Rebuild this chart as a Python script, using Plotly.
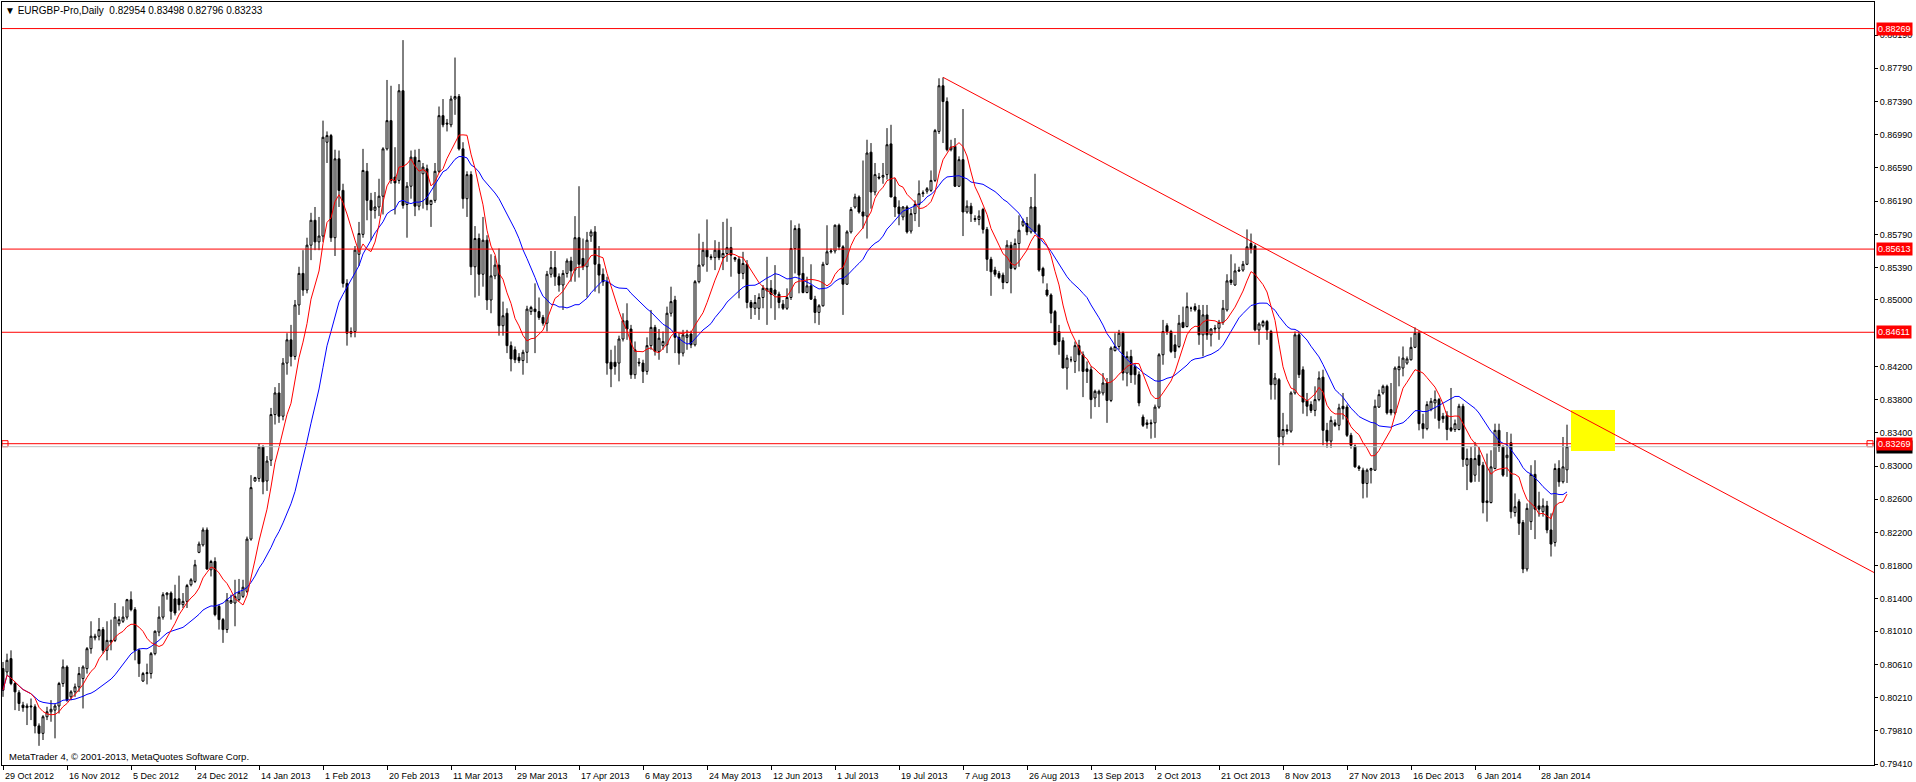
import plotly.graph_objects as go
import pandas as pd

# ---------------- data (prices in units of 0.0001) ----------------
opens = [
    8056, 8052, 8068, 8038, 8027, 8012, 8009, 8011, 8010, 7987,
    7978, 7998, 8004, 8006, 8011, 8038, 8058, 8022, 8028, 8034,
    8044, 8056, 8080, 8093, 8095, 8103, 8078, 8088, 8090, 8110,
    8113, 8118, 8139, 8127, 8078, 8041, 8050, 8050, 8074, 8100,
    8118, 8145, 8147, 8140, 8140, 8133, 8137, 8157, 8161, 8196,
    8205, 8223, 8175, 8185, 8131, 8115, 8103, 8135, 8135, 8139,
    8143, 8149, 8212, 8282, 8285, 8323, 8282, 8307, 8362, 8388,
    8360, 8424, 8452, 8432, 8494, 8532, 8512, 8566, 8596, 8570,
    8577, 8690, 8698, 8575, 8670, 8632, 8520, 8460, 8462, 8555,
    8579, 8655, 8620, 8608, 8612, 8625, 8682, 8716, 8648, 8644,
    8752, 8615, 8637, 8672, 8613, 8652, 8658, 8615, 8620, 8655,
    8722, 8713, 8711, 8742, 8745, 8682, 8622, 8651, 8540, 8574,
    8531, 8572, 8500, 8529, 8542, 8469, 8484, 8445, 8440, 8431,
    8427, 8437, 8486, 8489, 8486, 8479, 8472, 8531, 8539, 8528,
    8518, 8532, 8547, 8536, 8575, 8550, 8540, 8577, 8582, 8543,
    8531, 8522, 8425, 8425, 8424, 8453, 8475, 8465, 8410, 8425,
    8424, 8414, 8445, 8467, 8438, 8445, 8446, 8484, 8500, 8455,
    8436, 8455, 8459, 8446, 8522, 8542, 8560, 8552, 8551, 8560,
    8551, 8556, 8563, 8551, 8549, 8532, 8543, 8497, 8490, 8490,
    8503, 8511, 8514, 8512, 8507, 8495, 8490, 8503, 8562, 8586,
    8532, 8509, 8517, 8501, 8485, 8493, 8543, 8558, 8559, 8590,
    8564, 8519, 8582, 8612, 8624, 8606, 8601, 8678, 8630, 8648,
    8648, 8651, 8688, 8624, 8612, 8600, 8612, 8583, 8604, 8615,
    8628, 8631, 8632, 8644, 8703, 8758, 8739, 8681, 8685, 8637,
    8669, 8606, 8613, 8598, 8597, 8609, 8585, 8549, 8536, 8532,
    8530, 8521, 8566, 8538, 8568, 8590, 8592, 8582, 8612, 8590,
    8538, 8512, 8506, 8486, 8462, 8451, 8418, 8428, 8426, 8445,
    8434, 8417, 8416, 8382, 8387, 8388, 8400, 8379, 8439, 8444,
    8460, 8412, 8432, 8420, 8410, 8359, 8350, 8352, 8352, 8371,
    8434, 8469, 8462, 8446, 8444, 8473, 8468, 8490, 8492, 8488,
    8458, 8482, 8458, 8465, 8466, 8473, 8488, 8524, 8518, 8536,
    8536, 8543, 8568, 8565, 8464, 8469, 8474, 8462, 8398, 8404,
    8335, 8344, 8342, 8388, 8458, 8416, 8379, 8374, 8367, 8380,
    8407, 8343, 8330, 8352, 8349, 8372, 8371, 8337, 8324, 8299,
    8295, 8279, 8295, 8295, 8371, 8388, 8396, 8368, 8364, 8416,
    8418, 8424, 8428, 8443, 8460, 8351, 8345, 8368, 8376, 8380,
    8360, 8361, 8346, 8344, 8344, 8372, 8301, 8309, 8289, 8313,
    8301, 8256, 8256, 8297, 8343, 8323, 8310, 8328, 8244, 8257,
    8232, 8176, 8233, 8290, 8252, 8245, 8252, 8223, 8208, 8297,
    8281, 8295.4,
]
highs = [
    8064, 8074, 8078, 8040, 8030, 8016, 8014, 8020, 8013, 7990,
    8000, 8010, 8018, 8014, 8040, 8067, 8060, 8030, 8038, 8058,
    8060, 8082, 8113, 8098, 8117, 8106, 8113, 8115, 8135, 8119,
    8131, 8140, 8149, 8130, 8080, 8052, 8062, 8076, 8102, 8131,
    8148, 8148, 8149, 8157, 8168, 8147, 8158, 8165, 8187, 8209,
    8226, 8226, 8187, 8190, 8133, 8117, 8147, 8145, 8163, 8164,
    8163, 8215, 8289, 8287, 8327, 8325, 8312, 8370, 8395, 8400,
    8430, 8460, 8470, 8500, 8540, 8560, 8575, 8605, 8612, 8600,
    8716, 8703, 8700, 8681, 8680, 8640, 8525, 8467, 8565, 8594,
    8682, 8665, 8629, 8630, 8646, 8684, 8765, 8758, 8684, 8760,
    8813, 8642, 8680, 8681, 8682, 8665, 8663, 8620, 8665, 8733,
    8742, 8718, 8746, 8792, 8748, 8690, 8655, 8655, 8589, 8580,
    8600, 8578, 8555, 8553, 8562, 8498, 8490, 8450, 8444, 8436,
    8440, 8493, 8493, 8520, 8503, 8482, 8535, 8559, 8559, 8532,
    8536, 8550, 8552, 8601, 8637, 8574, 8582, 8585, 8589, 8565,
    8538, 8528, 8440, 8445, 8457, 8484, 8496, 8470, 8450, 8430,
    8428, 8455, 8488, 8470, 8465, 8462, 8492, 8516, 8505, 8460,
    8464, 8464, 8463, 8524, 8580, 8570, 8597, 8555, 8572, 8570,
    8594, 8598, 8588, 8552, 8552, 8558, 8548, 8500, 8506, 8508,
    8518, 8552, 8524, 8542, 8510, 8500, 8514, 8596, 8590, 8592,
    8552, 8528, 8543, 8505, 8495, 8546, 8590, 8562, 8591, 8592,
    8566, 8584, 8612, 8628, 8626, 8668, 8693, 8689, 8665, 8653,
    8665, 8707, 8711, 8647, 8620, 8613, 8614, 8610, 8620, 8644,
    8632, 8636, 8656, 8706, 8767, 8768, 8744, 8693, 8695, 8673,
    8730, 8620, 8617, 8602, 8608, 8611, 8588, 8552, 8540, 8535,
    8533, 8572, 8570, 8574, 8602, 8598, 8600, 8624, 8652, 8592,
    8540, 8520, 8508, 8488, 8470, 8455, 8434, 8432, 8450, 8452,
    8438, 8426, 8420, 8392, 8392, 8412, 8406, 8444, 8460, 8464,
    8462, 8438, 8440, 8424, 8414, 8362, 8356, 8356, 8374, 8436,
    8476, 8472, 8464, 8458, 8482, 8492, 8509, 8492, 8496, 8494,
    8494, 8494, 8466, 8470, 8476, 8500, 8531, 8555, 8544, 8540,
    8547, 8585, 8580, 8567, 8473, 8476, 8476, 8464, 8412, 8406,
    8364, 8350, 8390, 8462, 8462, 8420, 8388, 8378, 8396, 8414,
    8416, 8352, 8360, 8356, 8375, 8388, 8374, 8340, 8326, 8301,
    8298, 8297, 8298, 8380, 8392, 8398, 8398, 8400, 8420, 8432,
    8444, 8432, 8455, 8467, 8463, 8363, 8378, 8382, 8391, 8382,
    8364, 8366, 8394, 8356, 8375, 8375, 8321, 8323, 8329, 8323,
    8305, 8315, 8319, 8351, 8351, 8325, 8341, 8339, 8267, 8260,
    8235, 8255, 8301, 8307, 8269, 8261, 8258, 8243, 8303, 8307,
    8335, 8349.8,
]
lows = [
    8022, 8048, 8036, 8006, 8005, 8004, 7988, 7994, 7978, 7963,
    7970, 7994, 7992, 7972, 8002, 8034, 8016, 8018, 8022, 8028,
    8008, 8050, 8074, 8090, 8090, 8074, 8066, 8078, 8088, 8107,
    8111, 8115, 8125, 8066, 8046, 8040, 8037, 8044, 8072, 8095,
    8115, 8139, 8115, 8120, 8126, 8129, 8129, 8155, 8159, 8195,
    8203, 8175, 8167, 8119, 8103, 8087, 8099, 8134, 8107, 8137,
    8141, 8147, 8210, 8281, 8281, 8266, 8270, 8300, 8350, 8352,
    8355, 8410, 8420, 8428, 8482, 8505, 8508, 8548, 8560, 8560,
    8570, 8665, 8570, 8553, 8612, 8515, 8445, 8455, 8455, 8541,
    8575, 8596, 8572, 8598, 8601, 8603, 8680, 8640, 8603, 8640,
    8610, 8575, 8622, 8601, 8608, 8610, 8608, 8588, 8617, 8653,
    8708, 8703, 8708, 8723, 8680, 8610, 8600, 8530, 8503, 8505,
    8516, 8488, 8484, 8525, 8457, 8457, 8436, 8414, 8424, 8424,
    8410, 8424, 8482, 8436, 8476, 8469, 8462, 8527, 8517, 8510,
    8488, 8527, 8522, 8522, 8527, 8536, 8503, 8570, 8510, 8508,
    8517, 8410, 8395, 8410, 8402, 8450, 8452, 8405, 8405, 8420,
    8400, 8410, 8440, 8433, 8428, 8440, 8436, 8480, 8436, 8422,
    8432, 8440, 8442, 8444, 8520, 8540, 8534, 8548, 8536, 8548,
    8536, 8546, 8528, 8546, 8502, 8525, 8490, 8477, 8482, 8476,
    8490, 8470, 8490, 8476, 8490, 8488, 8488, 8500, 8532, 8508,
    8508, 8508, 8500, 8472, 8470, 8492, 8542, 8556, 8556, 8560,
    8482, 8518, 8580, 8610, 8604, 8586, 8574, 8610, 8626, 8645,
    8640, 8645, 8624, 8600, 8590, 8596, 8580, 8580, 8595, 8588,
    8624, 8628, 8630, 8642, 8700, 8689, 8679, 8679, 8636, 8636,
    8577, 8604, 8594, 8594, 8590, 8580, 8535, 8505, 8528, 8525,
    8513, 8520, 8508, 8536, 8540, 8588, 8578, 8580, 8580, 8534,
    8520, 8504, 8472, 8446, 8434, 8418, 8392, 8425, 8412, 8414,
    8383, 8400, 8357, 8371, 8371, 8385, 8352, 8377, 8438, 8440,
    8403, 8396, 8400, 8398, 8372, 8347, 8345, 8333, 8334, 8369,
    8422, 8458, 8436, 8430, 8442, 8466, 8467, 8486, 8486, 8446,
    8432, 8452, 8444, 8460, 8452, 8470, 8486, 8518, 8517, 8534,
    8534, 8542, 8556, 8462, 8446, 8467, 8452, 8380, 8380, 8301,
    8325, 8338, 8340, 8386, 8406, 8363, 8360, 8364, 8360, 8378,
    8325, 8322, 8322, 8347, 8343, 8356, 8335, 8321, 8298, 8294,
    8261, 8262, 8279, 8294, 8370, 8386, 8362, 8361, 8362, 8396,
    8408, 8422, 8427, 8442, 8343, 8333, 8343, 8366, 8357, 8345,
    8352, 8331, 8341, 8341, 8343, 8299, 8271, 8280, 8281, 8281,
    8243, 8233, 8255, 8296, 8317, 8287, 8287, 8237, 8239, 8217,
    8171, 8173, 8223, 8212, 8239, 8239, 8219, 8191, 8203, 8275,
    8279, 8279.6,
]
closes = [
    8030, 8066, 8038, 8028, 8014, 8009, 8011, 8010, 7987, 7978,
    7998, 8004, 8007, 8011, 8038, 8058, 8018, 8028, 8034, 8050,
    8058, 8080, 8095, 8095, 8103, 8078, 8090, 8090, 8118, 8115,
    8118, 8139, 8127, 8078, 8062, 8050, 8051, 8074, 8101, 8118,
    8145, 8147, 8125, 8123, 8133, 8137, 8156, 8163, 8181, 8206,
    8223, 8176, 8185, 8121, 8115, 8103, 8139, 8138, 8143, 8148,
    8154, 8212, 8274, 8286, 8323, 8281, 8306, 8362, 8388, 8360,
    8424, 8452, 8432, 8494, 8532, 8512, 8566, 8596, 8570, 8577,
    8696, 8698, 8575, 8670, 8632, 8520, 8460, 8462, 8560, 8580,
    8656, 8620, 8608, 8612, 8625, 8682, 8716, 8644, 8641, 8752,
    8614, 8637, 8672, 8613, 8668, 8660, 8615, 8620, 8655, 8722,
    8711, 8712, 8742, 8745, 8682, 8622, 8651, 8540, 8574, 8531,
    8572, 8500, 8529, 8542, 8469, 8481, 8445, 8429, 8428, 8427,
    8437, 8489, 8491, 8486, 8479, 8472, 8531, 8539, 8528, 8518,
    8532, 8547, 8535, 8575, 8543, 8540, 8572, 8582, 8543, 8530,
    8522, 8424, 8417, 8420, 8453, 8475, 8465, 8410, 8440, 8424,
    8414, 8445, 8467, 8438, 8454, 8450, 8484, 8498, 8455, 8436,
    8458, 8458, 8446, 8522, 8542, 8560, 8552, 8551, 8560, 8551,
    8556, 8563, 8554, 8549, 8532, 8544, 8497, 8491, 8497, 8503,
    8514, 8514, 8507, 8507, 8497, 8490, 8503, 8562, 8586, 8530,
    8509, 8517, 8501, 8485, 8493, 8543, 8558, 8559, 8590, 8564,
    8519, 8582, 8609, 8624, 8606, 8601, 8677, 8630, 8651, 8647,
    8650, 8687, 8624, 8612, 8604, 8612, 8582, 8604, 8615, 8628,
    8629, 8634, 8644, 8704, 8758, 8739, 8681, 8684, 8637, 8669,
    8606, 8613, 8604, 8597, 8601, 8585, 8549, 8534, 8531, 8527,
    8521, 8566, 8538, 8568, 8584, 8595, 8582, 8612, 8582, 8536,
    8529, 8506, 8484, 8446, 8450, 8418, 8430, 8428, 8445, 8434,
    8414, 8414, 8380, 8390, 8390, 8400, 8379, 8442, 8444, 8460,
    8412, 8432, 8410, 8410, 8376, 8349, 8352, 8351, 8371, 8434,
    8462, 8462, 8438, 8438, 8472, 8467, 8492, 8490, 8488, 8458,
    8482, 8458, 8465, 8466, 8473, 8490, 8523, 8521, 8535, 8535,
    8543, 8564, 8562, 8464, 8471, 8474, 8464, 8398, 8406, 8335,
    8344, 8342, 8388, 8458, 8410, 8377, 8372, 8367, 8380, 8406,
    8343, 8330, 8355, 8349, 8370, 8369, 8337, 8325, 8299, 8297,
    8279, 8295, 8297, 8372, 8386, 8396, 8364, 8364, 8418, 8420,
    8430, 8429, 8443, 8460, 8351, 8345, 8374, 8378, 8380, 8355,
    8357, 8344, 8343, 8351, 8372, 8308, 8309, 8281, 8309, 8301,
    8256, 8258, 8299, 8343, 8323, 8289, 8313, 8245, 8251, 8231,
    8176, 8249, 8290, 8248, 8248, 8252, 8223, 8206, 8297, 8281,
    8299, 8323.3,
]

PIP = 1e-4
xtick_pos = [0, 16, 32, 48, 64, 80, 96, 112, 128, 144, 160, 176, 192,
             208, 224, 240, 256, 272, 288, 304, 320, 336, 352, 368, 384]
xtick_labels = ["29 Oct 2012", "16 Nov 2012", "5 Dec 2012", "24 Dec 2012",
                "14 Jan 2013", "1 Feb 2013", "20 Feb 2013", "11 Mar 2013",
                "29 Mar 2013", "17 Apr 2013", "6 May 2013", "24 May 2013",
                "12 Jun 2013", "1 Jul 2013", "19 Jul 2013", "7 Aug 2013",
                "26 Aug 2013", "13 Sep 2013", "2 Oct 2013", "21 Oct 2013",
                "8 Nov 2013", "27 Nov 2013", "16 Dec 2013", "6 Jan 2014",
                "28 Jan 2014"]
ytick_vals = [0.88190, 0.87790, 0.87390, 0.86990, 0.86590, 0.86190, 0.85790,
              0.85390, 0.85000, 0.84200, 0.83800, 0.83400, 0.83000, 0.82600,
              0.82200, 0.81800, 0.81400, 0.81010, 0.80610, 0.80210, 0.79810,
              0.79410]
hline_levels = [0.88269, 0.85613, 0.84611, 0.83269]
selected_level = 0.83269
trend_anchor_bars = [235, 353]
trend_anchor_prices = [0.87682, 0.84658]
rect_bars = [392, 403]
rect_prices = [0.83180, 0.83675]
symbol_title = "EURGBP-Pro,Daily"
fast_period = 8
slow_period = 21

# ---------------- derived ----------------
o = [v * PIP for v in opens]
h = [v * PIP for v in highs]
l = [v * PIP for v in lows]
c = [v * PIP for v in closes]
idx = list(range(len(c)))
bid = c[-1]

cs = pd.Series(c)
ma_fast = cs.rolling(fast_period, min_periods=1).mean()
ma_slow = cs.rolling(slow_period, min_periods=1).mean()

X_RANGE = [-0.25, 467.75]
Y_RANGE = [0.79399, 0.88589]

fig = go.Figure()
fig.add_trace(go.Candlestick(
    x=idx, open=o, high=h, low=l, close=c,
    increasing=dict(line=dict(color="black", width=1), fillcolor="white"),
    decreasing=dict(line=dict(color="black", width=1), fillcolor="black"),
    whiskerwidth=0, hoverinfo="skip", showlegend=False,
))
fig.add_trace(go.Scatter(x=idx, y=ma_slow, mode="lines",
                         line=dict(color="#0000FF", width=1),
                         hoverinfo="skip", showlegend=False))
fig.add_trace(go.Scatter(x=idx, y=ma_fast, mode="lines",
                         line=dict(color="#FF0000", width=1),
                         hoverinfo="skip", showlegend=False))

# trend line (ray to the right edge)
slope = (trend_anchor_prices[1] - trend_anchor_prices[0]) / (trend_anchor_bars[1] - trend_anchor_bars[0])
ray_end_price = trend_anchor_prices[0] + slope * (X_RANGE[1] - trend_anchor_bars[0])

shapes = []
shapes.append(dict(type="line", xref="paper", x0=0, x1=1, yref="y", y0=bid, y1=bid,
                   line=dict(color="#C0C0C0", width=1), layer="above"))
for lv in hline_levels:
    shapes.append(dict(type="line", xref="paper", x0=0, x1=1, yref="y", y0=lv, y1=lv,
                       line=dict(color="#FF0000", width=1), layer="above"))
shapes.append(dict(type="rect", xref="x", yref="y", x0=rect_bars[0], x1=rect_bars[1],
                   y0=rect_prices[0], y1=rect_prices[1], fillcolor="#FFFF00",
                   line=dict(width=0), layer="above"))
shapes.append(dict(type="line", xref="x", yref="y", x0=trend_anchor_bars[0],
                   y0=trend_anchor_prices[0], x1=X_RANGE[1], y1=ray_end_price,
                   line=dict(color="#FF0000", width=1), layer="above"))

# selection handles of the horizontal line
fig.add_trace(go.Scatter(x=[X_RANGE[0] + 0.75, X_RANGE[1] - 1.0],
                         y=[selected_level, selected_level], mode="markers",
                         marker=dict(symbol="square", size=6, color="white",
                                     line=dict(color="#FF0000", width=1)),
                         cliponaxis=False, hoverinfo="skip", showlegend=False))

FONT = "Liberation Sans, Arial, sans-serif"
annotations = []
for pos, lab in zip(xtick_pos, xtick_labels):
    annotations.append(dict(x=pos, y=0, xref="x", yref="paper", text=lab,
                            showarrow=False, xanchor="left", yanchor="top",
                            xshift=0, yshift=-4,
                            font=dict(family=FONT, size=9, color="black")))
title_txt = "\u25BC " + symbol_title + "\u00a0\u00a0" + " ".join(
    f"{v:.5f}" for v in (o[-1], h[-1], l[-1], c[-1]))
annotations.append(dict(x=0, y=1, xref="paper", yref="paper", text=title_txt,
                        showarrow=False, xanchor="left", yanchor="top",
                        xshift=1, yshift=-1,
                        font=dict(family=FONT, size=10, color="black")))
annotations.append(dict(x=0, y=0, xref="paper", yref="paper",
                        text="MetaTrader 4, \u00a9 2001-2013, MetaQuotes Software Corp.",
                        showarrow=False, xanchor="left", yanchor="bottom",
                        xshift=5, yshift=1,
                        font=dict(family=FONT, size=9.5, color="black")))
# bid price label (black), then red level labels on top
annotations.append(dict(x=1, y=bid, xref="paper", yref="y", text=f"{bid:.5f}",
                        showarrow=False, xanchor="left", yanchor="middle", xshift=2,
                        bgcolor="black", borderpad=1,
                        font=dict(family=FONT, size=9, color="white")))
for lv in hline_levels:
    annotations.append(dict(x=1, y=lv, xref="paper", yref="y", text=f"{lv:.5f}",
                            showarrow=False, xanchor="left", yanchor="middle", xshift=2,
                            bgcolor="#FF0000", borderpad=1,
                            font=dict(family=FONT, size=9, color="white")))

fig.update_layout(
    width=1916, height=782,
    margin=dict(l=2, r=42, t=2, b=17, pad=0),
    paper_bgcolor="white", plot_bgcolor="white",
    showlegend=False, hovermode=False,
    font=dict(family=FONT, size=9, color="black"),
    shapes=shapes, annotations=annotations,
    xaxis=dict(range=X_RANGE, showgrid=False, zeroline=False, showline=True,
               linecolor="black", linewidth=1, mirror=True, ticks="outside",
               ticklen=4, tickcolor="black", tickvals=xtick_pos,
               showticklabels=False, rangeslider=dict(visible=False),
               fixedrange=True),
    yaxis=dict(range=Y_RANGE, side="right", showgrid=False, zeroline=False,
               showline=True, linecolor="black", linewidth=1, mirror=True,
               ticks="outside", ticklen=3, tickcolor="black",
               tickvals=ytick_vals, ticktext=[f"{v:.5f}" for v in ytick_vals],
               tickfont=dict(family=FONT, size=9, color="black"),
               fixedrange=True),
)

fig.write_html("out.html", include_plotlyjs=True,
               config={"displayModeBar": False, "staticPlot": True},
               post_script="document.body.style.margin='0';document.body.style.overflow='hidden';")
